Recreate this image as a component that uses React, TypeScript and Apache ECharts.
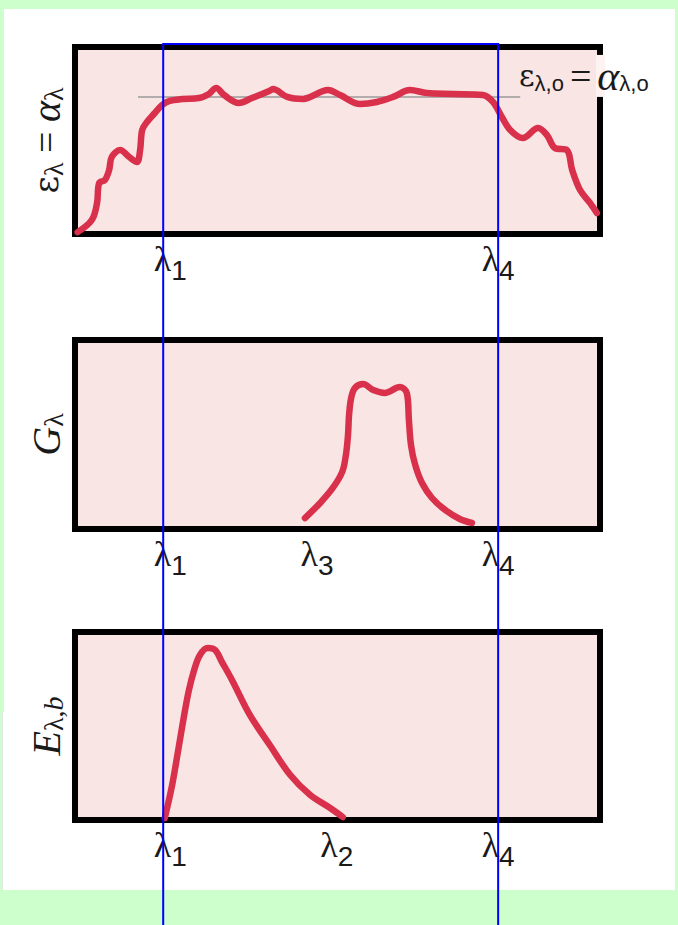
import { useEffect, useRef } from "react";
import * as echarts from "echarts";

// Wavelength positions (arbitrary units, 0..100 across each panel)
const LAMBDA_1 = 16.8;
const LAMBDA_2 = 51.0;
const LAMBDA_3 = 43.8;
const LAMBDA_4 = 80.6;

const lambdaValues = [LAMBDA_1, LAMBDA_2, LAMBDA_3, LAMBDA_4];
const lambdaSubscripts = ["1", "2", "3", "4"];

// Tick marks shown under each panel
const emissivityTicks = [LAMBDA_1, LAMBDA_4];
const irradiationTicks = [LAMBDA_1, LAMBDA_3, LAMBDA_4];
const blackbodyTicks = [LAMBDA_1, LAMBDA_2, LAMBDA_4];

// Spectral emissivity = absorptivity
const emissivity: [number, number][] = [
  [0.5, 1.0], [3.2, 7.5], [4.2, 16.6], [4.6, 27.3], [5.7, 28.9], [6.5, 34.2],
  [7.0, 41.2], [8.6, 44.9], [10.3, 41.2], [11.8, 38.5], [12.4, 44.9], [12.8, 55.6],
  [13.7, 59.9], [15.2, 64.7], [16.6, 69.0], [17.9, 71.1], [20.4, 72.2], [23.6, 72.7],
  [25.5, 74.9], [26.9, 78.1], [28.4, 74.3], [31.2, 70.1], [33.7, 72.7], [37.0, 76.5],
  [37.7, 77.5], [40.4, 73.3], [43.4, 72.2], [48.2, 77.0], [50.5, 74.3], [54.3, 69.5],
  [57.5, 70.6], [60.6, 73.3], [63.8, 77.0], [67.0, 75.4], [72.0, 74.9], [77.7, 74.3],
  [79.6, 70.6], [81.3, 62.6], [82.9, 55.6], [85.3, 51.3], [88.2, 56.7], [89.9, 52.9],
  [91.4, 46.0], [93.7, 44.9], [94.7, 34.2], [96.2, 23.5], [98.1, 16.6], [99.4, 11.2],
];

// Constant reference level ε_λ,o = α_λ,o
const emissivityLevel = 73.3;
const emissivityLevelSpan = [12, 84.8];

// Incident spectral irradiation
const irradiation: [number, number][] = [
  [43.8, 5.8], [46.7, 13.8], [49.1, 21.7], [50.9, 30.2], [51.6, 39.2], [52.0, 49.7],
  [52.2, 60.3], [52.6, 69.3], [53.3, 74.6], [54.9, 76.7], [56.8, 73.5], [59.0, 72.0],
  [61.9, 75.1], [63.2, 72.0], [63.6, 57.7], [64.0, 44.4], [64.8, 33.9], [66.1, 24.3],
  [68.0, 16.4], [70.5, 10.1], [73.3, 5.3], [75.6, 3.2],
];

// Blackbody spectral emissive power
const blackbody: [number, number][] = [
  [17.1, 1.1], [18.5, 18.6], [19.6, 36.2], [20.8, 55.9], [21.7, 69.1], [22.7, 79.8],
  [23.8, 87.8], [25.3, 91.5], [26.7, 90.4], [28.0, 84.0], [29.9, 74.5], [33.3, 55.9],
  [37.1, 39.9], [41.0, 23.9], [44.8, 13.3], [48.6, 6.4], [51.0, 1.6],
];

const CURVE = "#d9304b";
const PANEL = "#f9e5e3";
const INK = "#1a1a1a";

// Horizontal nudge (px) of each λ label relative to its tick
const labelNudge: Record<string, number> = { "1": 7, "2": -6, "3": 12, "4": 0 };

const tickRich: Record<string, any> = {
  g: { fontFamily: "Liberation Serif", fontSize: 36, lineHeight: 36, verticalAlign: "top", color: INK },
  s: { fontFamily: "Liberation Sans", fontSize: 28, lineHeight: 28, padding: [15, 0, 0, 0], verticalAlign: "top", color: INK },
  w12: { width: 12, height: 1 },
  w14: { width: 14, height: 1 },
  w24: { width: 24, height: 1 },
};

function tickLabel(value: number) {
  let best = 0;
  lambdaValues.forEach((v, i) => {
    if (Math.abs(v - value) < Math.abs(lambdaValues[best] - value)) best = i;
  });
  const sub = lambdaSubscripts[best];
  const nudge = labelNudge[sub];
  const spacer = nudge !== 0 ? `{w${Math.abs(nudge) * 2}|}` : "";
  const core = `{g|λ}{s|${sub}}`;
  return nudge > 0 ? spacer + core : core + spacer;
}

const nameRich: Record<string, any> = {
  e: { fontFamily: "DejaVu Serif", fontSize: 34, color: INK },
  q: { fontFamily: "Liberation Serif", fontSize: 38, color: INK },
  a: { fontFamily: "Liberation Serif", fontStyle: "italic", fontSize: 40, color: INK },
  s: { fontFamily: "Liberation Serif", fontSize: 28, padding: [14, 0, 0, 0], color: INK },
  si: { fontFamily: "Liberation Serif", fontStyle: "italic", fontSize: 28, padding: [14, 0, 0, 0], color: INK },
};

function xAxisFor(gridIndex: number, ticks: number[]) {
  return {
    type: "value",
    gridIndex,
    min: 0,
    max: 100,
    axisLine: { show: false },
    axisTick: { show: false },
    splitLine: { show: false },
    axisLabel: {
      show: true,
      customValues: ticks,
      margin: 7,
      formatter: (v: number) => tickLabel(v),
      rich: tickRich,
    },
  };
}

function yAxisFor(gridIndex: number, name: string) {
  return {
    type: "value",
    gridIndex,
    min: 0,
    max: 100,
    axisLine: { show: false },
    axisTick: { show: false },
    axisLabel: { show: false },
    splitLine: { show: false },
    name,
    nameLocation: "middle",
    nameRotate: 90,
    nameGap: 8,
    nameTextStyle: { rich: nameRich, color: INK },
  };
}

function curve(xAxisIndex: number, data: [number, number][], extra: any = {}) {
  return {
    type: "line",
    xAxisIndex,
    yAxisIndex: xAxisIndex,
    data,
    smooth: 0.35,
    symbol: "none",
    lineStyle: { color: CURVE, width: 6.5, cap: "round", join: "round" },
    z: 5,
    ...extra,
  };
}

export default function App() {
  const ref = useRef<HTMLDivElement>(null);

  useEffect(() => {
    if (!ref.current) return;
    const chart = echarts.init(ref.current, null, { renderer: "svg" });

    const gridStyle = {
      show: true,
      backgroundColor: PANEL,
      borderColor: "#000",
      borderWidth: 6,
      containLabel: false,
    };

    chart.setOption({
      animation: false,
      grid: [
        { ...gridStyle, left: 75, top: 47, width: 525, height: 187 },
        { ...gridStyle, left: 75, top: 340, width: 525, height: 189 },
        { ...gridStyle, left: 75, top: 632, width: 525, height: 188 },
      ],
      xAxis: [
        xAxisFor(0, emissivityTicks),
        xAxisFor(1, irradiationTicks),
        xAxisFor(2, blackbodyTicks),
      ],
      yAxis: [
        yAxisFor(0, "{e|ε}{s|λ}{q| = }{a|α}{s|λ}"),
        yAxisFor(1, "{a|G}{s|λ}"),
        yAxisFor(2, "{a|E}{s|λ,}{si|b}"),
      ],
      series: [
        curve(0, emissivity, {
          markLine: {
            silent: true,
            symbol: "none",
            label: { show: false },
            lineStyle: { color: "#9a9a9a", width: 1.5, type: "solid" },
            data: [
              [
                { coord: [emissivityLevelSpan[0], emissivityLevel] },
                { coord: [emissivityLevelSpan[1], emissivityLevel] },
              ],
            ],
            z: 2,
          },
        }),
        curve(1, irradiation),
        curve(2, blackbody),
      ],
    });

    // Blue frame marking the λ1..λ4 band, through all three panels
    const x1 = chart.convertToPixel({ xAxisIndex: 0 }, LAMBDA_1) as number;
    const x4 = chart.convertToPixel({ xAxisIndex: 0 }, LAMBDA_4) as number;
    const yTop = (chart.convertToPixel({ yAxisIndex: 0 }, 100) as number) - 3;
    const yLevel = chart.convertToPixel({ yAxisIndex: 0 }, emissivityLevel) as number;
    const xRight = chart.convertToPixel({ xAxisIndex: 0 }, 100) as number;
    const H = chart.getHeight();

    chart.setOption({
      graphic: [
        {
          type: "rect",
          shape: { x: xRight - 4, y: yLevel - 42, width: 9, height: 42 },
          style: { fill: "#fdf3f2" },
          z: 50,
        },
        {
          type: "text",
          x: 519,
          y: yLevel - 21,
          style: {
            text: "{e|ε}{s|λ,o}{q|=}{a|α}{s|λ,o}",
            verticalAlign: "middle",
            align: "left",
            rich: {
              e: { fontFamily: "DejaVu Serif", fontSize: 30, fill: INK },
              q: { fontFamily: "Liberation Serif", fontSize: 38, fill: INK, padding: [0, 6, 0, 6] },
              a: { fontFamily: "Liberation Serif", fontStyle: "italic", fontSize: 42, fill: INK },
              s: { fontFamily: "Liberation Sans", fontSize: 22, padding: [16, 0, 0, 0], fill: INK },
            },
          },
          z: 60,
        },
        {
          type: "polyline",
          shape: { points: [[x1, H], [x1, yTop], [x4, yTop], [x4, H]] },
          style: { stroke: "#0000ff", lineWidth: 2, fill: null },
          z: 100,
        },
      ],
    });

    return () => chart.dispose();
  }, []);

  return (
    <div style={{ position: "fixed", left: 0, top: 0, width: 678, height: 925, background: "#ccffcc", overflow: "hidden" }}>
      <div style={{ position: "absolute", left: 4, top: 9, width: 671, height: 881, background: "#ffffff" }} />
      <div style={{ position: "absolute", left: 0, top: 712, width: 4, height: 178, background: "#ffffff", borderLeft: "1px solid #e4e4e4", boxSizing: "border-box", marginLeft: 2 }} />
      <div ref={ref} style={{ position: "absolute", left: 0, top: 0, width: 678, height: 925 }} />
    </div>
  );
}
